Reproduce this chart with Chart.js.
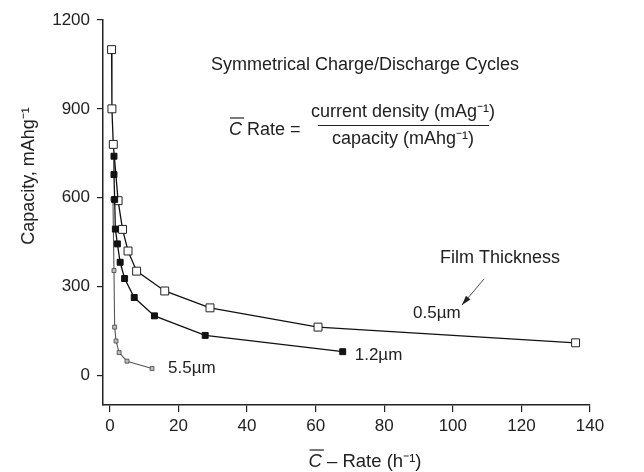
<!DOCTYPE html>
<html>
<head>
<meta charset="utf-8">
<script src="https://cdn.jsdelivr.net/npm/chart.js@4.4.1/dist/chart.umd.min.js"></script>
<style>
  html, body { margin: 0; padding: 0; background: #fff; }
  #wrap { position: relative; width: 644px; height: 472px; }
</style>
</head>
<body>
<div id="wrap"><canvas id="capacityChart"></canvas></div>
<script>
// values (C-rate in h^-1, capacity in mAh/g)
const rate05 = [0.5, 0.6, 1.0, 2.4, 3.7, 5.3, 7.8, 16, 29.2, 60.7, 135.8];
const cap05 = [1100, 900, 780, 590, 493, 420, 352, 285, 228, 163, 110];

const rate12 = [1.2, 1.2, 1.4, 1.6, 2.2, 3.0, 4.3, 7.1, 13, 27.8, 67.9];
const cap12 = [740, 678, 594, 494, 444, 382, 327, 263, 201, 135, 80];

const rate55 = [0.9, 1.2, 1.4, 1.8, 2.7, 5.0, 12.3];
const cap55 = [595, 354, 163, 116, 77, 48, 23];

const seriesLabels = ['0.5\u00b5m', '1.2\u00b5m', '5.5\u00b5m'];
const xTicks = [0, 20, 40, 60, 80, 100, 120, 140];
const yTicks = [0, 300, 600, 900, 1200];

const FONT = '"Liberation Sans", Arial, Helvetica, sans-serif';
const INK = '#222';

function toPoints(xs, ys) {
  return xs.map((v, i) => ({ x: v, y: ys[i] }));
}

// draws C with a bar over it, then the rest of the text; returns nothing
function barredC(ctx, x, y, rest, size) {
  ctx.font = 'italic ' + size + 'px ' + FONT;
  ctx.fillText('C', x, y);
  const w = ctx.measureText('C').width;
  ctx.lineWidth = 1.2;
  ctx.beginPath();
  ctx.moveTo(x + 1, y - 12);
  ctx.lineTo(x + w + 2, y - 12);
  ctx.stroke();
  ctx.font = size + 'px ' + FONT;
  ctx.fillText(rest, x + w, y);
}

// text, arrow and axis titles drawn on top of the chart
const notesPlugin = {
  id: 'notes',
  afterDraw(chart) {
    const ctx = chart.ctx;
    const xs = chart.scales.x;
    const ys = chart.scales.y;
    ctx.save();
    ctx.fillStyle = INK;
    ctx.strokeStyle = INK;
    ctx.textBaseline = 'middle';

    // heading
    ctx.font = '18px ' + FONT;
    ctx.textAlign = 'center';
    ctx.fillText('Symmetrical Charge/Discharge Cycles', 365, 65);

    // C Rate = fraction
    ctx.textAlign = 'left';
    barredC(ctx, 229, 130, ' Rate =', 18);

    ctx.textAlign = 'center';
    ctx.fillText('current density (mAg\u207b\u00b9)', 403, 112);
    ctx.fillText('capacity (mAhg\u207b\u00b9)', 403, 139);
    ctx.lineWidth = 1;
    ctx.beginPath();
    ctx.moveTo(318, 125.5);
    ctx.lineTo(489, 125.5);
    ctx.stroke();

    // film thickness note and arrow
    ctx.fillText('Film Thickness', 500, 258);
    const ax0 = 484, ay0 = 279, ax1 = 462, ay1 = 305;
    ctx.lineWidth = 0.8;
    ctx.beginPath();
    ctx.moveTo(ax0, ay0);
    ctx.lineTo(ax1, ay1);
    ctx.stroke();
    const ang = Math.atan2(ay1 - ay0, ax1 - ax0);
    ctx.beginPath();
    ctx.moveTo(ax1, ay1);
    ctx.lineTo(ax1 - 10 * Math.cos(ang - 0.3), ay1 - 10 * Math.sin(ang - 0.3));
    ctx.lineTo(ax1 - 10 * Math.cos(ang + 0.3), ay1 - 10 * Math.sin(ang + 0.3));
    ctx.closePath();
    ctx.fill();

    // series labels next to the curves
    ctx.font = '17px ' + FONT;
    ctx.textAlign = 'left';
    ctx.fillText(seriesLabels[0], 413, 313);
    ctx.fillText(seriesLabels[1], xs.getPixelForValue(rate12[rate12.length - 1]) + 12, ys.getPixelForValue(cap12[cap12.length - 1]) + 4);
    ctx.fillText(seriesLabels[2], xs.getPixelForValue(rate55[rate55.length - 1]) + 16, ys.getPixelForValue(cap55[cap55.length - 1]));

    // x axis title with overlined C
    const tail = ' \u2013 Rate (h\u207b\u00b9)';
    ctx.font = 'italic 18.5px ' + FONT;
    const cW = ctx.measureText('C').width;
    ctx.font = '18.5px ' + FONT;
    const tW = ctx.measureText(tail).width;
    barredC(ctx, 365 - (cW + tW) / 2, 462, tail, 18.5);

    // y axis title
    ctx.font = '18px ' + FONT;
    ctx.translate(29, 176);
    ctx.rotate(-Math.PI / 2);
    ctx.textAlign = 'center';
    ctx.fillText('Capacity, mAhg\u207b\u00b9', 0, 0);
    ctx.restore();
  }
};

new Chart(document.getElementById('capacityChart'), {
  type: 'scatter',
  data: {
    datasets: [
      {
        label: seriesLabels[1],
        data: toPoints(rate12, cap12),
        showLine: true,
        borderColor: '#111',
        borderWidth: 1.3,
        pointStyle: 'rect',
        pointRadius: 4.2,
        pointBackgroundColor: '#111',
        pointBorderColor: '#111',
        pointBorderWidth: 1,
        order: 1
      },
      {
        label: seriesLabels[0],
        data: toPoints(rate05, cap05),
        showLine: true,
        borderColor: '#111',
        borderWidth: 1.3,
        pointStyle: 'rect',
        pointRadius: 5.6,
        pointBackgroundColor: '#fff',
        pointBorderColor: '#222',
        pointBorderWidth: 1,
        order: 2
      },
      {
        label: seriesLabels[2],
        data: toPoints(rate55, cap55),
        showLine: true,
        borderColor: '#555',
        borderWidth: 1.1,
        pointStyle: 'rect',
        pointRadius: 2.8,
        pointBackgroundColor: '#bbb',
        pointBorderColor: '#444',
        pointBorderWidth: 0.8,
        order: 3
      }
    ]
  },
  options: {
    responsive: true,
    maintainAspectRatio: false,
    animation: false,
    layout: { padding: { top: 20, right: 54, left: 0, bottom: 0 } },
    plugins: {
      legend: { display: false },
      tooltip: { enabled: false }
    },
    scales: {
      x: {
        type: 'linear',
        min: -2,
        max: 140,
        afterBuildTicks: axis => { axis.ticks = xTicks.map(v => ({ value: v })); },
        afterFit: axis => { axis.height = 67; },
        grid: { drawOnChartArea: false, drawTicks: true, tickLength: 7, color: '#222', lineWidth: 1.2 },
        border: { display: true, color: '#222', width: 1.5 },
        ticks: { color: INK, font: { family: FONT, size: 17 }, padding: 4, maxRotation: 0, callback: v => String(v) }
      },
      y: {
        type: 'linear',
        min: -100,
        max: 1200,
        afterBuildTicks: axis => { axis.ticks = yTicks.map(v => ({ value: v })); },
        afterFit: axis => { axis.width = 103; },
        grid: { drawOnChartArea: false, drawTicks: true, tickLength: 6, color: '#222', lineWidth: 1.2 },
        border: { display: true, color: '#222', width: 1.5 },
        ticks: { color: INK, font: { family: FONT, size: 17 }, padding: 7, callback: v => String(v) }
      }
    }
  },
  plugins: [notesPlugin]
});
</script>
</body>
</html>
